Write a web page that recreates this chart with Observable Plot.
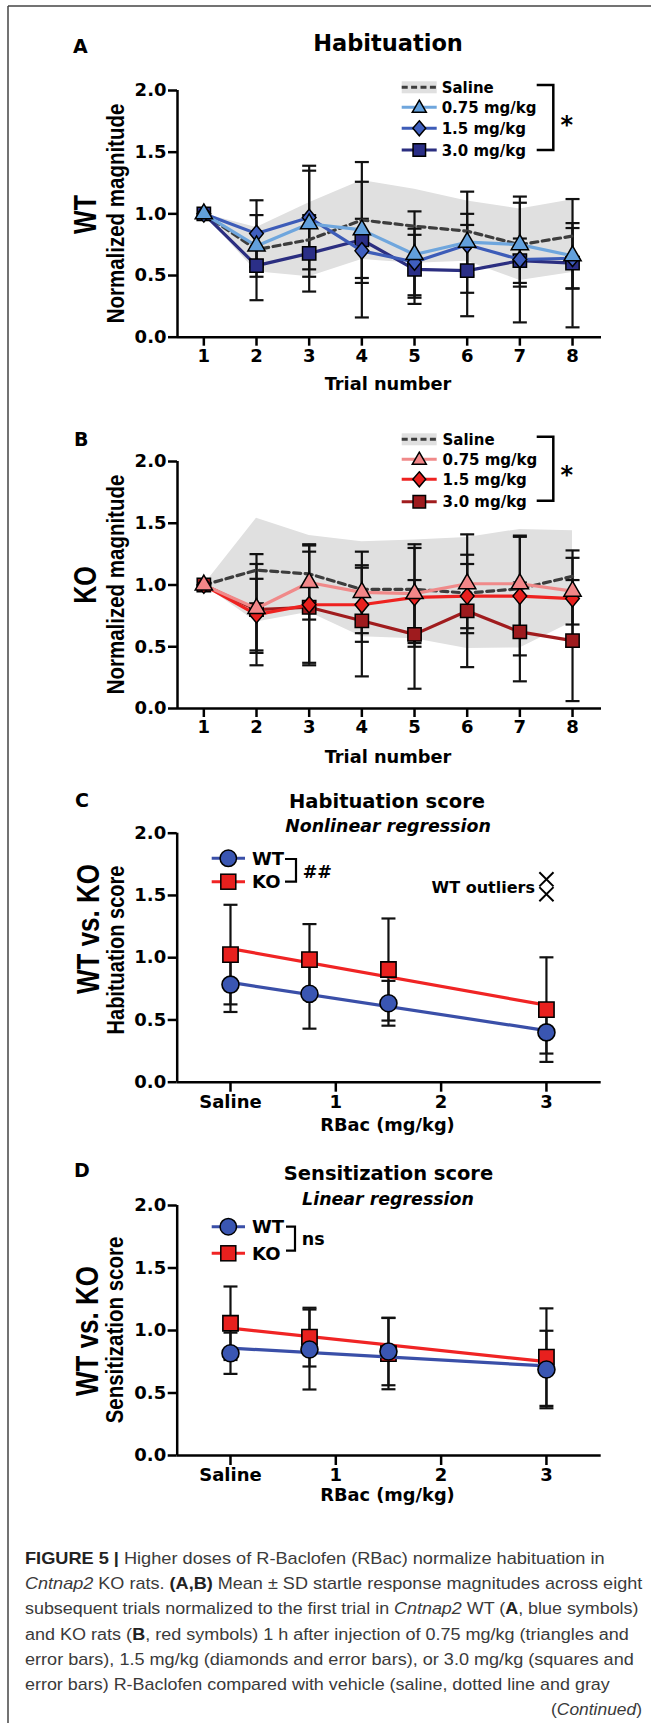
<!DOCTYPE html>
<html><head><meta charset="utf-8">
<script src="https://cdn.jsdelivr.net/npm/d3@7"></script>
<script src="https://cdn.jsdelivr.net/npm/@observablehq/plot@0.6"></script>
<style>
html,body{margin:0;padding:0;background:#fff;}
#page{position:relative;width:651px;height:1723px;overflow:hidden;background:#fff;}
#overlay{position:absolute;left:0;top:0;pointer-events:none;}
</style></head><body><div id="page"></div>
<script>
// ---------- data ----------
const trials = [1, 2, 3, 4, 5, 6, 7, 8];
const yTicks = [0, 0.5, 1, 1.5, 2];
const trialDomain = [0.5, 8.55];

// Panel A (WT)
const salineMeanA = [1.00, 0.71, 0.79, 0.95, 0.90, 0.86, 0.75, 0.82];
const salineSdA   = [0.00, 0.18, 0.30, 0.32, 0.30, 0.245, 0.29, 0.295];
const wt075Mean = [1.00, 0.74, 0.92, 0.87, 0.67, 0.77, 0.75, 0.66];
const wt075Sd   = [0.00, 0.25, 0.43, 0.39, 0.35, 0.41, 0.34, 0.265];
const wt15Mean  = [1.00, 0.84, 0.97, 0.70, 0.61, 0.75, 0.63, 0.64];
const wt15Sd    = [0.00, 0.27, 0.42, 0.26, 0.27, 0.25, 0.51, 0.245];
const wt30Mean  = [1.00, 0.58, 0.68, 0.79, 0.55, 0.54, 0.62, 0.60];
const wt30Sd    = [0.00, 0.28, 0.31, 0.63, 0.28, 0.37, 0.18, 0.52];

// Panel B (KO)
const salineMeanB = [1.00, 1.12, 1.09, 0.965, 0.965, 0.935, 0.97, 1.07];
const salineSdB   = [0.00, 0.42, 0.31, 0.385, 0.40, 0.45, 0.48, 0.37];
const ko075Mean = [1.00, 0.81, 1.02, 0.94, 0.93, 1.01, 1.01, 0.95];
const ko075Sd   = [0.00, 0.36, 0.30, 0.33, 0.40, 0.40, 0.39, 0.27];
const ko15Mean  = [1.00, 0.76, 0.84, 0.84, 0.90, 0.91, 0.91, 0.89];
const ko15Sd    = [0.00, 0.29, 0.49, 0.30, 0.40, 0.26, 0.48, 0.39];
const ko30Mean  = [1.00, 0.80, 0.82, 0.71, 0.60, 0.79, 0.62, 0.55];
const ko30Sd    = [0.00, 0.45, 0.45, 0.45, 0.44, 0.455, 0.40, 0.49];

// Panels C, D
const doses = [0, 0.75, 1.5, 3];
const doseTicks = [0, 1, 2, 3];
const doseTickLabels = ["Saline", "1", "2", "3"];
const doseDomain = [-0.506, 3.52];
const habWtMean = [0.784, 0.71, 0.634, 0.40];
const habWtSd   = [0.22, 0.28, 0.18, 0.17];
const habKoMean = [1.025, 0.985, 0.905, 0.583];
const habKoSd   = [0.40, 0.285, 0.41, 0.42];
const outlierDose = [3, 3];
const outlierVals = [1.63, 1.51];
const senWtMean = [0.818, 0.848, 0.832, 0.688];
const senWtSd   = [0.165, 0.32, 0.27, 0.31];
const senKoMean = [1.058, 0.947, 0.815, 0.787];
const senKoSd   = [0.294, 0.235, 0.285, 0.39];

const doseLegendLabels = ["Saline", "0.75 mg/kg", "1.5 mg/kg", "3.0 mg/kg"];

// ---------- helpers ----------
const BOLD = "'DejaVu Sans', 'Liberation Sans', sans-serif";
const ARIAL = "'Liberation Sans', Arial, sans-serif";
const fmt1 = d3.format(".1f");
const toRows = (xs, mean, sd) => xs.map((x, i) => ({x, y: mean[i], lo: mean[i] - sd[i], hi: mean[i] + sd[i], sd: sd[i]}));
const capSymbol = {draw(ctx, size) {const w = Math.sqrt(size / Math.PI); ctx.moveTo(-w, 0); ctx.lineTo(w, 0);}};
const diamondSym = {draw(ctx, size) {const r = Math.sqrt(size / Math.PI); const hh = r * 1.15, hw = r * 0.95;
  ctx.moveTo(0, -hh); ctx.lineTo(hw, 0); ctx.lineTo(0, hh); ctx.lineTo(-hw, 0); ctx.closePath();}};
function errorMarks(rows, capR) {
  const r = rows.filter(d => d.sd > 0);
  return [
    Plot.ruleX(r, {x: "x", y1: "lo", y2: "hi", stroke: "#111", strokeWidth: 2.2}),
    Plot.dot(r, {x: "x", y: "hi", symbol: capSymbol, r: capR, stroke: "#111", strokeWidth: 2.2, fill: "none"}),
    Plot.dot(r, {x: "x", y: "lo", symbol: capSymbol, r: capR, stroke: "#111", strokeWidth: 2.2, fill: "none"})
  ];
}
const plotStyle = {background: "transparent", color: "#000", fontFamily: BOLD, fontSize: "18px", fontWeight: "bold", overflow: "visible"};

function trialPlot(cfg) {
  const sal = toRows(trials, cfg.salMean, cfg.salSd);
  const ser = cfg.series.map(s => ({...s, rows: toRows(trials, s.mean, s.sd)}));
  return Plot.plot({
    width: 651, height: cfg.height, marginLeft: 177, marginRight: 50, marginTop: cfg.mt, marginBottom: cfg.mb,
    x: {domain: trialDomain, label: null}, y: {domain: [0, 2], label: null},
    style: plotStyle,
    marks: [
      Plot.areaY(sal, {x: "x", y1: "lo", y2: "hi", fill: "#e0e0e0"}),
      ...ser.flatMap(s => errorMarks(s.rows, 7)),
      Plot.line(sal, {x: "x", y: "y", stroke: "#3d3d3d", strokeWidth: 3.2, strokeDasharray: "7,4.5"}),
      ...ser.flatMap(s => [
        Plot.line(s.rows, {x: "x", y: "y", stroke: s.line, strokeWidth: 3.2}),
        Plot.dot(s.rows, {x: "x", y: "y", symbol: s.symbol, r: s.r, fill: s.fill, stroke: "#000", strokeWidth: 1.5})
      ]),
      Plot.ruleY([0], {stroke: "#000", strokeWidth: 2.5}),
      Plot.ruleX([trialDomain[0]], {stroke: "#000", strokeWidth: 2.5}),
      Plot.axisX({ticks: trials, tickSize: 9, tickPadding: 3, tickFormat: d => String(d), strokeWidth: 2.5}),
      Plot.axisY({ticks: yTicks, tickSize: 9, tickPadding: 2, tickFormat: fmt1, strokeWidth: 2.5})
    ]
  });
}

function dosePlot(cfg) {
  const wt = toRows(doses, cfg.wtMean, cfg.wtSd), ko = toRows(doses, cfg.koMean, cfg.koSd);
  const extra = cfg.outliers ? [Plot.dot(cfg.outliers, {x: "x", y: "y", symbol: "times", r: 6.5, stroke: "#000", strokeWidth: 2})] : [];
  return Plot.plot({
    width: 651, height: cfg.height, marginLeft: 176.7, marginRight: 50.3, marginTop: cfg.mt, marginBottom: cfg.mb,
    x: {domain: doseDomain, label: null}, y: {domain: [0, 2], label: null},
    style: plotStyle,
    marks: [
      ...errorMarks(ko, 7), ...errorMarks(wt, 7),
      Plot.linearRegressionY(ko, {x: "x", y: "y", stroke: "#f02424", strokeWidth: 3.2, ci: 0}),
      Plot.dot(ko, {x: "x", y: "y", symbol: "square", r: 8.6, fill: "#e8201e", stroke: "#000", strokeWidth: 1.6}),
      Plot.linearRegressionY(wt, {x: "x", y: "y", stroke: "#3a4fa8", strokeWidth: 3.2, ci: 0}),
      Plot.dot(wt, {x: "x", y: "y", symbol: "circle", r: 8.5, fill: "#3a56b2", stroke: "#000", strokeWidth: 1.6}),
      ...extra,
      Plot.ruleY([0], {stroke: "#000", strokeWidth: 2.5}),
      Plot.ruleX([doseDomain[0]], {stroke: "#000", strokeWidth: 2.5}),
      Plot.axisX({ticks: doseTicks, tickSize: 10, tickPadding: 3, tickFormat: d => doseTickLabels[doseTicks.indexOf(d)], strokeWidth: 2.5}),
      Plot.axisY({ticks: yTicks, tickSize: 9, tickPadding: 2, tickFormat: fmt1, strokeWidth: 2.5})
    ]
  });
}

const page = document.getElementById("page");
function place(el, top) {el.style.position = "absolute"; el.style.left = "0px"; el.style.top = top + "px"; page.appendChild(el);}

const blueSeries = [
  {name: "3.0", mean: wt30Mean, sd: wt30Sd, line: "#2b2e80", fill: "#2b2f87", symbol: "square", r: 7.5},
  {name: "1.5", mean: wt15Mean, sd: wt15Sd, line: "#3d5cb8", fill: "#3f5fbf", symbol: diamondSym, r: 7.2},
  {name: "0.75", mean: wt075Mean, sd: wt075Sd, line: "#6fa6dd", fill: "#62a0dc", symbol: "triangle", r: 6.4}
];
const redSeries = [
  {name: "3.0", mean: ko30Mean, sd: ko30Sd, line: "#a01c1e", fill: "#9e1b1e", symbol: "square", r: 7.5},
  {name: "1.5", mean: ko15Mean, sd: ko15Sd, line: "#ee2220", fill: "#e8201e", symbol: diamondSym, r: 7.2},
  {name: "0.75", mean: ko075Mean, sd: ko075Sd, line: "#f08a8a", fill: "#f28688", symbol: "triangle", r: 6.4}
];

place(trialPlot({salMean: salineMeanA, salSd: salineSdA, series: blueSeries, height: 400, mt: 90, mb: 63.3}), 0);
place(trialPlot({salMean: salineMeanB, salSd: salineSdB, series: redSeries, height: 400, mt: 61, mb: 92}), 400);
place(dosePlot({wtMean: habWtMean, wtSd: habWtSd, koMean: habKoMean, koSd: habKoSd, height: 340, mt: 32.7, mb: 58.3,
  outliers: outlierDose.map((x, i) => ({x, y: outlierVals[i]}))}), 800);
place(dosePlot({wtMean: senWtMean, wtSd: senWtSd, koMean: senKoMean, koSd: senKoSd, height: 350, mt: 35, mb: 65}), 1170);

// ---------- overlay: labels, titles, legends, caption ----------
const ov = d3.select(page).append("svg").attr("id", "overlay").attr("width", 651).attr("height", 1723);
function txt(x, y, s, o = {}) {
  const t = ov.append("text").text(s)
    .attr("font-family", o.ff || BOLD).attr("font-size", o.fs || 17).attr("font-weight", o.fw || "bold")
    .attr("text-anchor", o.anchor || "start").attr("fill", o.fill || "#000");
  if (o.italic) t.attr("font-style", "italic");
  if (o.rotate) t.attr("transform", `translate(${x},${y}) scale(${o.sx || 1.2},1) rotate(-90)`);
  else t.attr("x", x).attr("y", y);
  return t;
}
function ln(x1, y1, x2, y2, o = {}) {
  return ov.append("line").attr("x1", x1).attr("y1", y1).attr("x2", x2).attr("y2", y2)
    .attr("stroke", o.stroke || "#000").attr("stroke-width", o.w || 2.5).attr("stroke-dasharray", o.dash || null);
}
// frame
ln(8, 6, 651, 6, {stroke: "#444", w: 1.5});
ln(8, 6, 8, 1723, {stroke: "#444", w: 1.5});

// panel letters
txt(73, 53, "A", {fs: 19}); txt(74, 446, "B", {fs: 19}); txt(75, 807, "C", {fs: 19}); txt(74, 1177, "D", {fs: 19});
// titles
txt(388, 51, "Habituation", {fs: 22.5, anchor: "middle"});
txt(387, 808, "Habituation score", {fs: 19.5, anchor: "middle"});
txt(388, 832, "Nonlinear regression", {fs: 17.4, anchor: "middle", italic: true});
txt(388.5, 1180, "Sensitization score", {fs: 19.5, anchor: "middle"});
txt(388, 1205, "Linear regression", {fs: 17.4, anchor: "middle", italic: true});
// rotated labels (glyph height stretched horizontally like the reference)
txt(96, 214.5, "WT", {ff: ARIAL, fs: 25, anchor: "middle", rotate: true, sx: 1.25});
txt(123.5, 213.5, "Normalized magnitude", {ff: ARIAL, fs: 20.5, anchor: "middle", rotate: true});
txt(96, 585, "KO", {ff: ARIAL, fs: 25, anchor: "middle", rotate: true, sx: 1.25});
txt(123.5, 584.5, "Normalized magnitude", {ff: ARIAL, fs: 20.5, anchor: "middle", rotate: true});
txt(99, 929, "WT vs. KO", {ff: ARIAL, fs: 26, anchor: "middle", rotate: true, sx: 1.2});
txt(124, 950, "Habituation score", {ff: ARIAL, fs: 20, anchor: "middle", rotate: true});
txt(98, 1331, "WT vs. KO", {ff: ARIAL, fs: 26, anchor: "middle", rotate: true, sx: 1.2});
txt(123, 1330, "Sensitization score", {ff: ARIAL, fs: 20.5, anchor: "middle", rotate: true});
// x labels
txt(388, 390, "Trial number", {fs: 17.8, anchor: "middle"});
txt(388, 763, "Trial number", {fs: 17.8, anchor: "middle"});
txt(387.5, 1131, "RBac (mg/kg)", {fs: 17.8, anchor: "middle"});
txt(387.5, 1501, "RBac (mg/kg)", {fs: 17.8, anchor: "middle"});

// trial legends
function symPath(type, size) {return d3.symbol(type, size)();}
function diamondPath(hh, hw) {return `M0,${-hh}L${hw},0L0,${hh}L${-hw},0Z`;}
function trialLegend(series, rowsY, tx, bracket, star) {
  const x0 = 401.7, x1 = 436.7, cx = 419.3;
  ov.append("rect").attr("x", x0).attr("y", rowsY[0] - 6).attr("width", x1 - x0).attr("height", 12).attr("fill", "#e0e0e0");
  ln(x0, rowsY[0], x1, rowsY[0], {stroke: "#3d3d3d", w: 3, dash: "6,3.4"});
  txt(tx, rowsY[0] + 5.6, doseLegendLabels[0], {fs: 15});
  const order = [series[2], series[1], series[0]];
  const paths = [symPath(d3.symbolTriangle, 85), diamondPath(7.5, 6.4), symPath(d3.symbolSquare, 156)];
  order.forEach((s, i) => {
    const y = rowsY[i + 1];
    ln(x0, y, x1, y, {stroke: s.line, w: 3});
    ov.append("path").attr("d", paths[i]).attr("transform", `translate(${cx},${y + (i === 0 ? 1 : 0)})`)
      .attr("fill", s.fill).attr("stroke", "#000").attr("stroke-width", 1.5);
    txt(tx, y + 5.6, doseLegendLabels[i + 1], {fs: 15});
  });
  ov.append("path").attr("d", `M${bracket[0]},${bracket[2]}H${bracket[1]}V${bracket[3]}H${bracket[0]}`)
    .attr("fill", "none").attr("stroke", "#000").attr("stroke-width", 2.5);
  txt(star[0], star[1], "*", {fs: 24, anchor: "middle"});
}
trialLegend(blueSeries, [87.3, 107.3, 128.3, 150], 441.7, [536.7, 553.3, 85, 150], [566.7, 133]);
trialLegend(redSeries, [439.3, 459.3, 479.3, 501.7], 442.5, [536.7, 553.3, 436.7, 500.7], [566.7, 483]);

// genotype legends
function genoLegend(rowsY, bracket, sig, sigPos) {
  const x0 = 211.7, x1 = 245, cx = 228.3;
  ln(x0, rowsY[0], x1, rowsY[0], {stroke: "#3a4fa8", w: 3});
  ov.append("circle").attr("cx", cx).attr("cy", rowsY[0]).attr("r", 8.2).attr("fill", "#3a56b2").attr("stroke", "#000").attr("stroke-width", 1.5);
  txt(252, rowsY[0] + 6.5, "WT", {fs: 18});
  ln(x0, rowsY[1], x1, rowsY[1], {stroke: "#f02424", w: 3});
  ov.append("rect").attr("x", cx - 7.5).attr("y", rowsY[1] - 7.5).attr("width", 15).attr("height", 15).attr("fill", "#e8201e").attr("stroke", "#000").attr("stroke-width", 1.5);
  txt(252, rowsY[1] + 6.5, "KO", {fs: 18});
  ov.append("path").attr("d", `M${bracket[0]},${bracket[2]}H${bracket[1]}V${bracket[3]}H${bracket[0]}`)
    .attr("fill", "none").attr("stroke", "#000").attr("stroke-width", 2.2);
  txt(sigPos[0], sigPos[1], sig, {fs: 17.5});
}
genoLegend([858.3, 881.7], [285, 296, 859, 881.7], "##", [302.7, 877.7]);
genoLegend([1226.7, 1253.3], [286, 295, 1226.7, 1250.7], "ns", [301.7, 1245]);
txt(535, 893, "WT outliers", {fs: 16, anchor: "end"});

// caption
const captionLines = [
  [["FIGURE 5", "b"], [" | ", "b"], ["Higher doses of R-Baclofen (RBac) normalize habituation in", ""]],
  [["Cntnap2", "i"], [" KO rats. ", ""], ["(A,B)", "b"], [" Mean \u00B1 SD startle response magnitudes across eight", ""]],
  [["subsequent trials normalized to the first trial in ", ""], ["Cntnap2", "i"], [" WT (", ""], ["A", "b"], [", blue symbols)", ""]],
  [["and KO rats (", ""], ["B", "b"], [", red symbols) 1 h after injection of 0.75 mg/kg (triangles and", ""]],
  [["error bars), 1.5 mg/kg (diamonds and error bars), or 3.0 mg/kg (squares and", ""]],
  [["error bars) R-Baclofen compared with vehicle (saline, dotted line and gray", ""]]
];
const captionRight = [605, 642, 639, 629, 634, 610];
const capX = 25, capBase0 = 1564, capStep = 25.2;
captionLines.forEach((runs, i) => {
  const y = capBase0 + i * capStep;
  const t = ov.append("text").attr("x", capX).attr("y", y).attr("font-family", ARIAL).attr("font-size", 16.4).attr("fill", "#3a3a3a");
  runs.forEach(([s, st]) => {
    const ts = t.append("tspan").text(s);
    if (st === "b") ts.attr("font-weight", "bold").attr("fill", "#222");
    if (st === "i") ts.attr("font-style", "italic");
  });
  const w = t.node().getComputedTextLength();
  const k = (captionRight[i] - capX) / w;
  t.attr("transform", `translate(${capX},0) scale(${k},1) translate(${-capX},0)`);
});
{
  const y = capBase0 + 6 * capStep;
  const t = ov.append("text").attr("x", 642).attr("y", y).attr("text-anchor", "end").attr("font-family", ARIAL).attr("font-size", 16.4).attr("fill", "#3a3a3a");
  t.append("tspan").text("(");
  t.append("tspan").text("Continued").attr("font-style", "italic");
  t.append("tspan").text(")");
  const w = t.node().getComputedTextLength();
  const k = (642 - 551) / w;
  t.attr("transform", `translate(642,0) scale(${k},1) translate(-642,0)`);
}
</script></body></html>
